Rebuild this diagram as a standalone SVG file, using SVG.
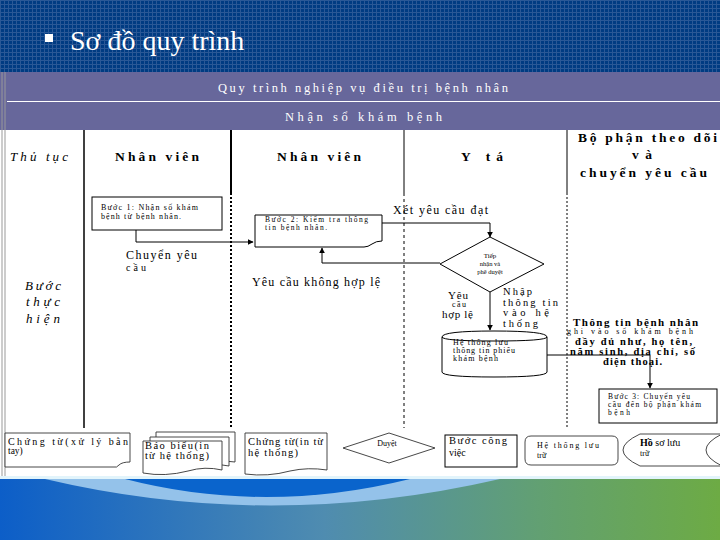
<svg xmlns="http://www.w3.org/2000/svg" width="720" height="540" viewBox="0 0 720 540">
<defs>
<pattern id="grid" width="4" height="4" patternUnits="userSpaceOnUse">
<rect width="4" height="4" fill="#003b82"/>
<path d="M0,0.5H4M0.5,0V4" stroke="#2a5896" stroke-width="1"/>
</pattern>
<linearGradient id="foot" x1="0" y1="0" x2="1" y2="0">
<stop offset="0" stop-color="#0c5ec8"/>
<stop offset="0.45" stop-color="#4f8cb0"/>
<stop offset="0.75" stop-color="#62a072"/>
<stop offset="1" stop-color="#6dab44"/>
</linearGradient>
<marker id="arr" viewBox="0 0 10 10" refX="9" refY="5" markerWidth="6" markerHeight="6" orient="auto">
<path d="M0,0L10,5L0,10Z" fill="#000"/>
</marker>
<style>
.s{font-family:"Liberation Serif","DejaVu Serif",serif;fill:#000}
.b{font-weight:bold}
.i{font-style:italic}
.sh{fill:#fff;stroke:#000;stroke-width:1}
.thin{fill:#fff;stroke:#333;stroke-width:0.9}
.c{fill:none;stroke:#000;stroke-width:1}
.w{font-family:"Liberation Serif","DejaVu Serif",serif;fill:#fff}
</style>
</defs>
<rect width="720" height="540" fill="#fff"/>
<rect x="0" y="0" width="720" height="72" fill="url(#grid)"/>
<rect x="45" y="34" width="8" height="8" fill="#fff"/>
<text class="w" x="70" y="50" font-size="28">Sơ đồ quy trình</text>
<rect x="0" y="72" width="720" height="58" fill="#67679b"/>
<line x1="7" y1="101.5" x2="720" y2="101.5" stroke="#fff" stroke-width="1"/>
<text class="w" x="218" y="92" font-size="12.5" textLength="290" lengthAdjust="spacing">Quy trình nghiệp vụ điều trị bệnh nhân</text>
<text class="w" x="285" y="121" font-size="12.5" textLength="157" lengthAdjust="spacing">Nhận sổ khám bệnh</text>
<line x1="2" y1="72" x2="2" y2="478" stroke="#999" stroke-width="1"/>
<line x1="5" y1="72" x2="5" y2="478" stroke="#999" stroke-width="1"/>
<g id="lanes">
<line x1="84" y1="130" x2="84" y2="428" stroke="#000" stroke-width="1.5"/>
<line x1="231" y1="130" x2="231" y2="193" stroke="#000" stroke-width="2"/>
<line x1="231" y1="193" x2="231" y2="428" stroke="#000" stroke-width="2" stroke-dasharray="2,2"/>
<line x1="404" y1="130" x2="404" y2="193" stroke="#000" stroke-width="1"/>
<line x1="404" y1="193" x2="404" y2="428" stroke="#000" stroke-width="1" stroke-dasharray="3,3"/>
<line x1="567" y1="130" x2="567" y2="193" stroke="#000" stroke-width="1"/>
<line x1="567" y1="193" x2="567" y2="428" stroke="#000" stroke-width="1" stroke-dasharray="2,2"/>
<text class="s i" x="10" y="161" font-size="13" textLength="58" lengthAdjust="spacing">Thủ tục</text>
<text class="s b" x="115" y="161" font-size="13.5" textLength="84" lengthAdjust="spacing">Nhân viên</text>
<text class="s b" x="277" y="161" font-size="13.5" textLength="84" lengthAdjust="spacing">Nhân viên</text>
<text class="s b" x="461" y="161" font-size="13.5" textLength="42" lengthAdjust="spacing">Y tá</text>
<text class="s b" x="578" y="142" font-size="13.5" textLength="139" lengthAdjust="spacing">Bộ phận theo dõi</text>
<text class="s b" x="632" y="159" font-size="13.5" textLength="20" lengthAdjust="spacing">và</text>
<text class="s b" x="580" y="177" font-size="13.5" textLength="127" lengthAdjust="spacing">chuyển yêu cầu</text>
<text class="s i" x="25" y="290" font-size="13" textLength="36" lengthAdjust="spacing">Bước</text>
<text class="s i" x="26" y="306" font-size="13" textLength="34" lengthAdjust="spacing">thực</text>
<text class="s i" x="26" y="323" font-size="13" textLength="34" lengthAdjust="spacing">hiện</text>
</g>
<g id="connectors">
<polyline class="c" points="136,230 136,242 253,242" marker-end="url(#arr)"/>
<polyline class="c" points="382,223 490,223 490,237" marker-end="url(#arr)"/>
<polyline class="c" points="440,263 322,263 322,248" marker-end="url(#arr)"/>
<polyline class="c" points="490,292 490,330" marker-end="url(#arr)"/>
<polyline class="c" points="547,355 650,355 650,388" marker-end="url(#arr)"/>
<text class="s" x="393" y="214" font-size="12" textLength="95" lengthAdjust="spacing">Xét yêu cầu đạt</text>
<text class="s" x="126" y="259" font-size="12" textLength="71" lengthAdjust="spacing">Chuyển yêu</text>
<text class="s" x="126" y="271" font-size="10" textLength="20" lengthAdjust="spacing">cầu</text>
<text class="s" x="252" y="286" font-size="12" textLength="128" lengthAdjust="spacing">Yêu cầu không hợp lệ</text>
<text class="s" x="448" y="299" font-size="11" textLength="20" lengthAdjust="spacing">Yêu</text>
<text class="s" x="452" y="307" font-size="8" textLength="14" lengthAdjust="spacing">cầu</text>
<text class="s" x="442" y="318" font-size="11" textLength="31" lengthAdjust="spacing">hợp lệ</text>
<text class="s" x="503" y="295" font-size="10.5" textLength="29" lengthAdjust="spacing">Nhập</text>
<text class="s" x="503" y="305.5" font-size="10.5" textLength="55" lengthAdjust="spacing">thông tin</text>
<text class="s" x="503" y="316" font-size="10.5" textLength="46" lengthAdjust="spacing">vào hệ</text>
<text class="s" x="503" y="326.5" font-size="10.5" textLength="35" lengthAdjust="spacing">thống</text>
<text class="s b" x="573" y="326" font-size="11" textLength="125" lengthAdjust="spacing">Thông tin bệnh nhân</text>
<text class="s" x="567" y="334" font-size="8" textLength="126" lengthAdjust="spacing">ghi vào sổ khám bệnh</text>
<text class="s b" x="575" y="345" font-size="10.5" textLength="117" lengthAdjust="spacing">đầy đủ như, họ tên,</text>
<text class="s b" x="570" y="355" font-size="10.5" textLength="125" lengthAdjust="spacing">năm sinh, địa chỉ, số</text>
<text class="s b" x="603" y="365" font-size="10.5" textLength="59" lengthAdjust="spacing">điện thoại.</text>
</g>
<g id="buoc1">
<rect class="sh" x="92" y="197" width="130" height="33"/>
<text class="s" x="101" y="210" font-size="8" textLength="97" lengthAdjust="spacing">Bước 1: Nhận sổ khám</text>
<text class="s" x="101" y="219" font-size="8" textLength="80" lengthAdjust="spacing">bệnh từ bệnh nhân.</text>
</g>
<g id="buoc2">
<path class="sh" d="M255,215H382V241Q376,241 372,244Q368,247 364,247H255Z"/>
<text class="s" x="265" y="222" font-size="7.5" textLength="103" lengthAdjust="spacing">Bước 2: Kiểm tra thông</text>
<text class="s" x="265" y="230" font-size="7.5" textLength="62" lengthAdjust="spacing">tin bệnh nhân.</text>
</g>
<g id="tiepnhan">
<polygon class="sh" points="490,237 544,264 490,292 440,264"/>
<text class="s" x="490" y="258" font-size="7" text-anchor="middle">Tiếp</text>
<text class="s" x="490" y="266" font-size="6.5" text-anchor="middle">nhận và</text>
<text class="s" x="490" y="274" font-size="6.5" text-anchor="middle">phê duyệt</text>
</g>
<g id="hethong">
<path class="sh" d="M442,337Q442,331 494,331Q547,331 547,337V372Q547,377 494,377Q442,377 442,372Z"/>
<path class="c" d="M442,337Q443,341 494,341Q546,341 547,337"/>
<text class="s" x="453" y="345" font-size="8" textLength="55" lengthAdjust="spacing">Hệ thống lưu</text>
<text class="s" x="453" y="353" font-size="8" textLength="62" lengthAdjust="spacing">thông tin phiếu</text>
<text class="s" x="453" y="361" font-size="8" textLength="45" lengthAdjust="spacing">khám bệnh</text>
</g>
<g id="buoc3">
<rect class="sh" x="599" y="389" width="118" height="34"/>
<text class="s" x="608" y="399" font-size="7.5" textLength="82" lengthAdjust="spacing">Bước 3: Chuyển yêu</text>
<text class="s" x="608" y="407" font-size="7.5" textLength="93" lengthAdjust="spacing">cầu đến bộ phận khám</text>
<text class="s" x="608" y="415" font-size="7.5" textLength="22" lengthAdjust="spacing">bệnh</text>
</g>
<g id="legend-chungtu-tay">
<path class="thin" d="M5,433H130V462Q122,462 119,465Q117,468 113,467H5Z"/>
<text class="s" x="8" y="445" font-size="10" textLength="120" lengthAdjust="spacing">Chứng từ(xử lý bằn</text>
<text class="s" x="8" y="454" font-size="9.5">tay)</text>
</g>
<g id="legend-baobieu">
<path class="thin" d="M156,432H235V462Q220,460 210,463Q180,470 156,464Z"/>
<path class="thin" d="M150,437H229V466Q214,463 204,467Q174,474 150,468Z"/>
<path class="thin" d="M143,441H222V470Q205,466 188,471Q165,477 143,473Z"/>
<text class="s" x="145" y="449" font-size="10.5" textLength="64" lengthAdjust="spacing">Báo biểu(in</text>
<text class="s" x="145" y="459" font-size="10.5" textLength="64" lengthAdjust="spacing">từ hệ thống)</text>
</g>
<g id="legend-chungtu-ht">
<path class="thin" d="M245,433H327V470Q308,467 290,471Q268,477 245,474Z"/>
<text class="s" x="248" y="445" font-size="10.5" textLength="75" lengthAdjust="spacing">Chứng từ(in từ</text>
<text class="s" x="248" y="456" font-size="10.5" textLength="50" lengthAdjust="spacing">hệ thống)</text>
</g>
<g id="legend-duyet">
<polygon class="thin" points="343,448 389,433 435,448 389,463"/>
<text class="s" x="387" y="446" font-size="8" text-anchor="middle">Duyệt</text>
</g>
<g id="legend-buoc">
<rect class="sh" x="445" y="435" width="72" height="32"/>
<text class="s" x="449" y="444" font-size="10.5" textLength="58" lengthAdjust="spacing">Bước công</text>
<text class="s" x="449" y="456" font-size="10">việc</text>
</g>
<g id="legend-htluutru">
<path class="thin" d="M531,436H612Q618,436 618,442V459Q618,465 612,465H531Q525,465 525,459V442Q525,436 531,436Z"/>
<text class="s" x="537" y="448" font-size="8" textLength="62" lengthAdjust="spacing">Hệ thống lưu</text>
<text class="s" x="537" y="458" font-size="8">trữ</text>
</g>
<g id="legend-hoso">
<path class="thin" d="M640,434H722Q690,450 722,466H640Q606,450 640,434Z"/>
<text class="s" x="640" y="446" font-size="10"><tspan font-weight="bold">Hồ</tspan>  sơ lưu</text>
<text class="s" x="640" y="456" font-size="8">trữ</text>
</g>
<rect x="0" y="476" width="720" height="3" fill="#e2f4fb"/>
<rect x="0" y="479" width="720" height="61" fill="url(#foot)"/>
<path d="M45,479Q270,532 500,479Z" fill="#94c2ea"/>
<path d="M125,479Q265,515 410,479Z" fill="#0a64cc"/>
</svg>
